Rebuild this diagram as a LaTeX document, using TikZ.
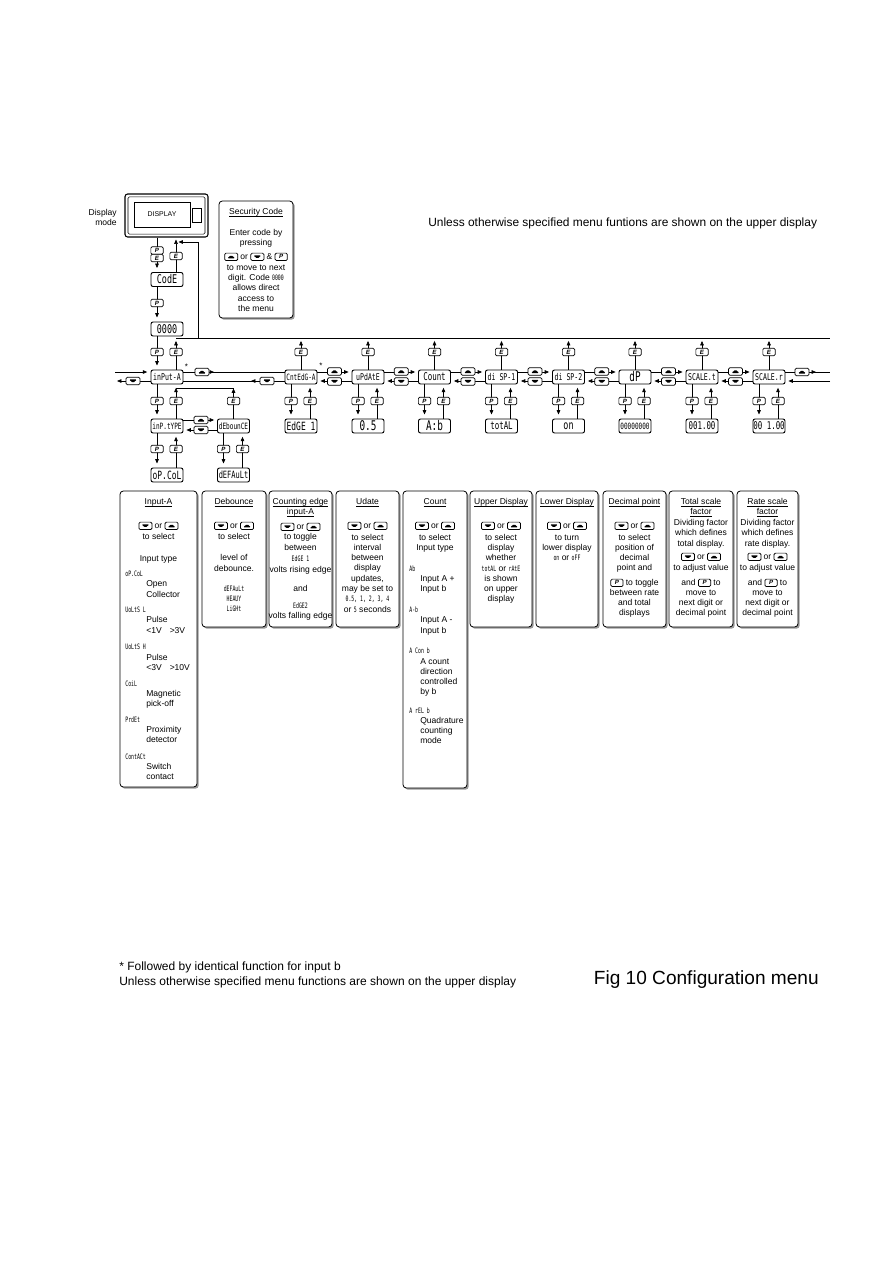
\documentclass[tikz,border=0pt]{standalone}
\usepackage{fontspec}
\setmainfont{Liberation Sans}
\newfontfamily\segfam{DejaVu Sans Mono}
\usepackage{graphicx}
\usetikzlibrary{arrows.meta,shadows}

\newcommand\sgi[1]{\scalebox{0.65}[1]{\fontsize{5.6}{5.6}\selectfont\segfam #1}}
\newcommand\sgb[2]{\scalebox{0.7}[1]{\fontsize{#1}{#1}\selectfont\segfam #2}}
\newsavebox\ulbox
\newcommand\ul[1]{\sbox\ulbox{#1}\rlap{\rule[-1.1pt]{\wd\ulbox}{0.35pt}}\usebox\ulbox}

\tikzset{
 kbtn/.style={draw, line width=0.55pt, rounded corners=1pt, fill=white, minimum width=9.2pt, minimum height=5.6pt, inner sep=0pt, font=\fontsize{4.6}{4.6}\selectfont\bfseries\itshape},
 kup/.style={kbtn, minimum width=10.5pt, path picture={\fill[black] ([shift={(-3.1pt,-1.2pt)}]path picture bounding box.center) -- ++(6.2pt,0pt) -- ++(-3.1pt,2.6pt) -- cycle;}},
 kdn/.style={kbtn, minimum width=10.5pt, path picture={\fill[black] ([shift={(-3.1pt,1.2pt)}]path picture bounding box.center) -- ++(6.2pt,0pt) -- ++(-3.1pt,-2.6pt) -- cycle;}},
}
\newcommand\iku{\tikz[baseline={([yshift=-2pt]ik.center)}]\node[kup,minimum width=9.8pt](ik){};}
\newcommand\ikd{\tikz[baseline={([yshift=-2pt]ik.center)}]\node[kdn,minimum width=9.8pt](ik){};}
\newcommand\ikp{\tikz[baseline={([yshift=-2pt]ik.center)}]\node[kbtn](ik){P};}

\begin{document}
\begin{tikzpicture}[x=0.75pt,y=-0.75pt, line width=0.5pt,
  seg/.style={draw, line width=0.7pt, rounded corners=1.5pt, minimum width=24pt, minimum height=10.5pt, inner sep=0pt, fill=white},
  arr/.style={-{Triangle[length=3.3pt,width=2.7pt]}},
  desc/.style={draw, line width=0.6pt, rounded corners=2.5pt, fill=white, drop shadow={shadow xshift=1.3pt, shadow yshift=-1.3pt, fill=black!40, opacity=1}, inner sep=0pt},
  tx/.style={font=\fontsize{6.4}{7.7}\selectfont, inner sep=0pt, anchor=mid},
  txl/.style={tx, anchor=mid west},
]
\fill[white] (0,0) rectangle (893,1263);
\path[use as bounding box] (0,0) rectangle (893,1263);

% ---------- display and security code ----------
\node[draw, line width=0.8pt, rounded corners=2pt, minimum width=62.25pt, minimum height=32.25pt, inner sep=0pt] (disp) at (166.5,215.5) {};
\node[draw, line width=0.4pt, rounded corners=1pt, minimum width=57.75pt, minimum height=28pt, inner sep=0pt] (bezel) at (166.5,215.5) {};
\node[draw, line width=0.5pt, minimum width=42pt, minimum height=18.75pt, inner sep=0pt, font=\fontsize{5.2}{5.2}\selectfont] (dtxt) at (162,214.5) {DISPLAY};
\node[draw, line width=0.5pt, minimum width=7pt, minimum height=10.5pt, inner sep=0pt] (dwin) at (196.5,215) {};
\node[tx, anchor=mid east] (dm1) at (117,212) {Display};
\node[tx, anchor=mid east] (dm2) at (117,222) {mode};

\node[desc, minimum width=55.5pt, minimum height=87.75pt] (sec) at (256,259.5) {};
\foreach \yy/\lbl [count=\i] in {211/{\ul{Security Code}}, 232/{Enter code by}, 242/{pressing}, 256/{\iku{} or \ikd{} \& \ikp}, 267/{to move to next}, 277/{digit. Code \sgi{0000}}, 287/{allows direct}, 298/{access to}, 308/{the menu}}
  \node[tx] (sec-\i) at (256,\yy) {\lbl};

\node[anchor=mid west, inner sep=0pt, font=\fontsize{8.95}{10}\selectfont] (hdr) at (428,223) {Unless otherwise specified menu funtions are shown on the upper display};

% ---------- segment boxes ----------
\node[seg] (code) at (167,279.5) {\sgb{9}{CodE}};
\node[seg] (zero) at (167,329) {\sgb{9}{0000}};

\node[seg] (inA) at (167,377) {\sgb{7}{inPut-A}};
\node[seg] (cnt) at (301,377) {\sgb{6.5}{CntEdG-A}};
\node[seg] (upd) at (368,377) {\sgb{7}{uPdAtE}};
\node[seg] (cou) at (434.5,377) {\sgb{8}{Count}};
\node[seg] (d1) at (501.5,377) {\sgb{7}{di SP-1}};
\node[seg] (d2) at (568.5,377) {\sgb{7}{di SP-2}};
\node[seg] (dp) at (635,377) {\sgb{10}{dP}};
\node[seg] (st) at (702,377) {\sgb{7}{SCALE.t}};
\node[seg] (sr) at (769,377) {\sgb{7}{SCALE.r}};

\node[seg] (inAs) at (167,426) {\sgb{6.5}{inP.tYPE}};
\node[seg] (cnts) at (301,426) {\sgb{8.5}{EdGE 1}};
\node[seg] (upds) at (368,426) {\sgb{10}{0.5}};
\node[seg] (cous) at (434.5,426) {\sgb{10}{A:b}};
\node[seg] (d1s) at (501.5,426) {\sgb{8}{totAL}};
\node[seg] (d2s) at (568.5,426) {\sgb{9}{on}};
\node[seg] (dps) at (635,426) {\sgb{6.5}{00000000}};
\node[seg] (sts) at (702,426) {\sgb{8}{001.00}};
\node[seg] (srs) at (769,426) {\sgb{8}{00 1.00}};

\node[seg] (deb) at (233.5,426) {\sgb{6.5}{dEbounCE}};
\node[seg] (opc) at (167,475) {\sgb{8.5}{oP.CoL}};
\node[seg] (dfl) at (233.5,475) {\sgb{7.5}{dEFAuLt}};

% ---------- coordinates ----------
\coordinate (Px) at (157,0);
\coordinate (Ex) at (176,0);
\coordinate (T0) at (176,338);
\coordinate (T1) at (830,338);
\coordinate (R0) at (198,338);
\coordinate (R1) at (198,242);
\coordinate (R2) at (178.5,242);
\coordinate (Lin) at (115,372);
\coordinate (Lout) at (117,381);
\coordinate (Rup) at (830,372);
\coordinate (Rdn) at (830,381);
\coordinate (J) at (176,388);

% ---------- left column connectors ----------
\draw[arr, shorten >=3pt] (disp.south -| Px) -- (code.north -| Px);
\draw[arr, shorten >=1.5pt] (code.north -| Ex) -- (disp.south -| Ex);
\draw[arr] (R0) -- (R1) -- (R2);
\draw (T0) -- (T1);
\draw[arr, shorten >=3pt] (code.south -| Px) -- (zero.north -| Px);
\draw[arr, shorten >=3pt] (zero.south -| Px) -- (inA.north -| Px);
\draw[arr, shorten >=2.2pt] (inA.north -| Ex) -- (T0);
\node[kbtn] (kpe1) at (157,250.5) {P};
\node[kbtn] (kpe2) at (157,258) {E};
\node[kbtn] (ke0) at (176,256) {E};
\node[kbtn] (kp1) at (157,303) {P};
\node[kbtn] (kp2) at (157,352) {P};
\node[kbtn] (kt-inA) at (176,352) {E};

% ---------- upper E returns ----------
\foreach \m/\c in {cnt/301, upd/368, cou/434.5, d1/501.5, d2/568.5, dp/635, st/702, sr/769} {
  \draw[arr, shorten >=2.2pt] (\m.north) -- (\m.north |- T1);
  \node[kbtn] (kt-\m) at (\c,352) {E};
}

% ---------- main row horizontal ----------
\draw[arr, shorten >=2.5pt] (Lin) -- ([yshift=3.75pt]inA.west);
\draw[arr] ([yshift=-3pt]inA.west) -- (Lout);
\node[kdn] (kdl) at (133,381) {};
\draw ([yshift=3.75pt]inA.east) -- ([yshift=3.75pt]cnt.west);
\draw[arr] (208,372) -- (214,372);
\node[kup] (kua) at (202,372) {};
\draw ([yshift=-3pt]cnt.west) -- ([yshift=-3pt]inA.east);
\draw[arr] (257,381) -- (251,381);
\node[kdn] (kda) at (267,381) {};
\node[inner sep=0pt, font=\fontsize{6}{6}\selectfont] (ast1) at (186.5,367) {*};
\node[inner sep=0pt, font=\fontsize{6}{6}\selectfont] (ast2) at (321,366) {*};

\foreach \a/\b/\mx in {cnt/upd/334.5, upd/cou/401.25, cou/d1/468, d1/d2/535, d2/dp/601.75, dp/st/668.5, st/sr/735.5} {
  \draw[arr, shorten >=2.2pt] ([yshift=3.75pt]\a.east) -- ([yshift=3.75pt]\b.west);
  \draw[arr, shorten >=2.2pt] ([yshift=-3pt]\b.west) -- ([yshift=-3pt]\a.east);
  \node[kup] (ku-\a) at (\mx,371.5) {};
  \node[kdn] (kd-\a) at (\mx,381.5) {};
}
\draw ([yshift=3.75pt]sr.east) -- (Rup);
\draw[arr] (810,372) -- (816,372);
\node[kup] (kur) at (802,372) {};
\draw[arr, shorten >=2.2pt] (Rdn) -- ([yshift=-3pt]sr.east);

% ---------- main to sub rows ----------
\foreach \m/\s/\c in {inA/inAs/167, cnt/cnts/301, upd/upds/368, cou/cous/434.5, d1/d1s/501.5, d2/d2s/568.5, dp/dps/635, st/sts/702, sr/srs/769} {
  \draw[arr, shorten >=3pt] ([xshift=-7.5pt]\m.south) -- ([xshift=-7.5pt]\s.north);
  \draw[arr, shorten >=2.5pt] ([xshift=6.75pt]\s.north) -- ([xshift=6.75pt]\m.south);
  \node[kbtn] (kp-\m) at (\c-10,401) {P};
  \node[kbtn] (ke-\m) at (\c+9,401) {E};
}
\draw[arr, shorten >=0.3pt] (deb.north) -- (deb.north |- J);
\draw (deb.north |- J) -- (J);
\node[kbtn] (ke-deb) at (233.5,401) {E};

\draw[arr, shorten >=2.2pt] ([yshift=4.5pt]inAs.east) -- ([yshift=4.5pt]deb.west);
\draw[arr, shorten >=2.2pt] ([yshift=-3pt]deb.west) -- ([yshift=-3pt]inAs.east);
\node[kup] (kus) at (201,420) {};
\node[kdn] (kds) at (201,430) {};

\foreach \m/\s/\c in {inAs/opc/167, deb/dfl/233.5} {
  \draw[arr, shorten >=3pt] ([xshift=-7.5pt]\m.south) -- ([xshift=-7.5pt]\s.north);
  \draw[arr, shorten >=2.5pt] ([xshift=6.75pt]\s.north) -- ([xshift=6.75pt]\m.south);
  \node[kbtn] (kp-\m) at (\c-10,449) {P};
  \node[kbtn] (ke-\m) at (\c+9,449) {E};
}

% ---------- description boxes ----------
\node[desc, minimum width=57.75pt, minimum height=222pt] (b1) at (158.5,639) {};
\node[desc, minimum width=48pt, minimum height=102pt] (b2) at (234,559) {};
\node[desc, minimum width=47.25pt, minimum height=102pt] (b3) at (300.5,559) {};
\node[desc, minimum width=47.25pt, minimum height=102pt] (b4) at (367.5,559) {};
\node[desc, minimum width=48pt, minimum height=222.75pt] (b5) at (435,639.5) {};
\node[desc, minimum width=46.5pt, minimum height=102pt] (b6) at (501,559) {};
\node[desc, minimum width=46.5pt, minimum height=102pt] (b7) at (567,559) {};
\node[desc, minimum width=47.25pt, minimum height=102pt] (b8) at (634.5,559) {};
\node[desc, minimum width=48pt, minimum height=102pt] (b9) at (701,559) {};
\node[desc, minimum width=45.75pt, minimum height=102pt] (b10) at (767.5,559) {};

% Input-A
\foreach \yy/\lbl [count=\i] in {501/{\ul{Input-A}}, 525/{\ikd{} or \iku}, 536/{to select}, 558/{Input type}}
  \node[tx] (t1c-\i) at (158.5,\yy) {\lbl};
\foreach \yy/\lbl [count=\i] in {573/{oP.CoL}, 609/{UoLtS L}, 646/{UoLtS H}, 683/{CoiL}, 719/{PrdEt}, 756/{ContACt}}
  \node[txl] (t1s-\i) at (125,\yy) {\sgi{\lbl}};
\foreach \yy/\lbl [count=\i] in {583/Open, 594/Collector, 619/Pulse, 630/{<1V\hspace{6pt}>3V}, 657/Pulse, 667/{<3V\hspace{6pt}>10V}, 693/Magnetic, 703/pick-off, 729/Proximity, 739/detector, 766/Switch, 776/contact}
  \node[txl] (t1d-\i) at (146,\yy) {\lbl};

% Debounce
\foreach \yy/\lbl [count=\i] in {501/{\ul{Debounce}}, 525/{\ikd{} or \iku}, 536/{to select}, 557/{level of}, 568/{debounce.}, 588/{\sgi{dEFAuLt}}, 598/{\sgi{HEAUY}}, 608/{\sgi{LiGHt}}}
  \node[tx] (t2-\i) at (234,\yy) {\lbl};

% Counting edge
\foreach \yy/\lbl [count=\i] in {501/{\ul{Counting edge}}, 511/{\ul{input-A}}, 526/{\ikd{} or \iku}, 536/{to toggle}, 547/{between}, 558/{\sgi{EdGE 1}}, 569/{volts rising edge}, 588/{and}, 605/{\sgi{EdGE2}}, 615/{volts falling edge}}
  \node[tx] (t3-\i) at (300.5,\yy) {\lbl};

% Udate
\foreach \yy/\lbl [count=\i] in {501/{\ul{Udate}}, 525/{\ikd{} or \iku}, 537/{to select}, 547/{interval}, 557/{between}, 567/{display}, 578/{updates,}, 588/{may be set to}, 598/{\sgi{0.5, 1, 2, 3, 4}}, 609/{or \sgi{5} seconds}}
  \node[tx] (t4-\i) at (367.5,\yy) {\lbl};

% Count
\foreach \yy/\lbl [count=\i] in {501/{\ul{Count}}, 525/{\ikd{} or \iku}, 537/{to select}, 547/{Input type}}
  \node[tx] (t5c-\i) at (435,\yy) {\lbl};
\foreach \yy/\lbl [count=\i] in {568/{Ab}, 609/{A-b}, 650/{A Con b}, 710/{A rEL b}}
  \node[txl] (t5s-\i) at (409,\yy) {\sgi{\lbl}};
\foreach \yy/\lbl [count=\i] in {578/{Input A +}, 588/{Input b}, 619/{Input A -}, 630/{Input b}, 661/{A count}, 671/direction, 681/controlled, 691/{by b}, 720/Quadrature, 730/counting, 740/mode}
  \node[txl] (t5d-\i) at (420,\yy) {\lbl};

% Upper display
\foreach \yy/\lbl [count=\i] in {501/{\ul{Upper Display}}, 525/{\ikd{} or \iku}, 537/{to select}, 547/{display}, 557/{whether}, 568/{\sgi{totAL} or \sgi{rAtE}}, 578/{is shown}, 588/{on upper}, 598/{display}}
  \node[tx] (t6-\i) at (501,\yy) {\lbl};

% Lower display
\foreach \yy/\lbl [count=\i] in {501/{\ul{Lower Display}}, 525/{\ikd{} or \iku}, 537/{to turn}, 547/{lower display}, 557/{\sgi{on} or \sgi{oFF}}}
  \node[tx] (t7-\i) at (567,\yy) {\lbl};

% Decimal point
\foreach \yy/\lbl [count=\i] in {501/{\ul{Decimal point}}, 525/{\ikd{} or \iku}, 537/{to select}, 547/{position of}, 557/{decimal}, 567/{point and}, 582/{\ikp{} to toggle}, 592/{between rate}, 602/{and total}, 612/{displays}}
  \node[tx] (t8-\i) at (634.5,\yy) {\lbl};

% Total scale
\foreach \yy/\lbl [count=\i] in {501/{\ul{Total scale}}, 511/{\ul{factor}}, 522/{Dividing factor}, 532/{which defines}, 543/{total display.}, 556/{\ikd{} or \iku}, 567/{to adjust value}, 582/{and \ikp{} to}, 592/{move to}, 602/{next digit or}, 612/{decimal point}}
  \node[tx] (t9-\i) at (701,\yy) {\lbl};

% Rate scale
\foreach \yy/\lbl [count=\i] in {501/{\ul{Rate scale}}, 511/{\ul{factor}}, 522/{Dividing factor}, 532/{which defines}, 543/{rate display.}, 556/{\ikd{} or \iku}, 567/{to adjust value}, 582/{and \ikp{} to}, 592/{move to}, 602/{next digit or}, 612/{decimal point}}
  \node[tx] (t10-\i) at (767.5,\yy) {\lbl};

% ---------- footer ----------
\node[anchor=mid west, inner sep=0pt, font=\fontsize{9}{10}\selectfont] (ft1) at (119,967) {* Followed by identical function for input b};
\node[anchor=mid west, inner sep=0pt, font=\fontsize{9}{10}\selectfont] (ft2) at (119,982) {Unless otherwise specified menu functions are shown on the upper display};
\node[anchor=mid east, inner sep=0pt, font=\fontsize{14.3}{16}\selectfont] (fig) at (819,981) {Fig 10 Configuration menu};
\end{tikzpicture}
\end{document}
